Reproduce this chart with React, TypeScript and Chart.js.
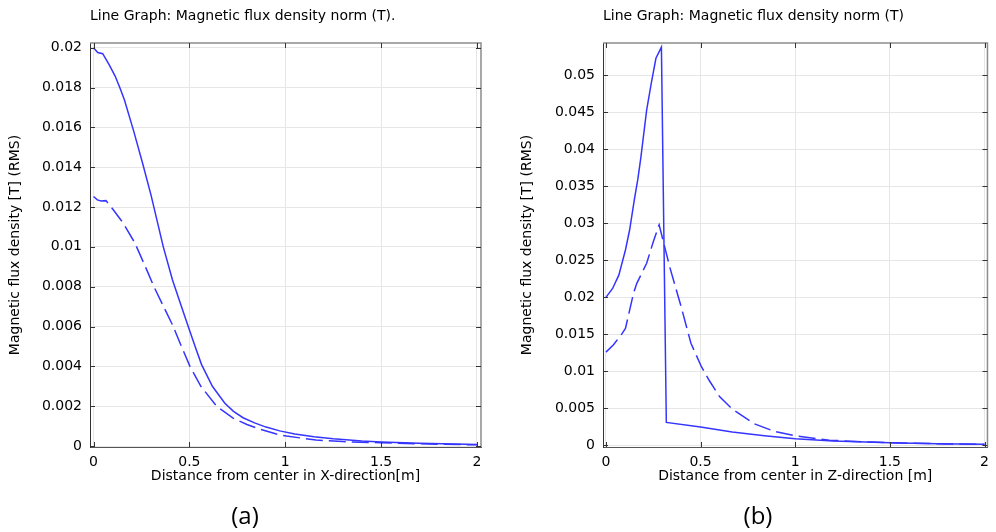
import React, { useEffect, useRef } from 'react';
import { Chart, registerables } from 'chart.js';

Chart.register(...registerables);

// ---------- tick values and labels ----------
const xTickValues = [0, 0.5, 1, 1.5, 2];
const xTickLabels = ['0', '0.5', '1', '1.5', '2'];

const yTickValuesA = [0, 0.002, 0.004, 0.006, 0.008, 0.01, 0.012, 0.014, 0.016, 0.018, 0.02];
const yTickLabelsA = ['0', '0.002', '0.004', '0.006', '0.008', '0.01', '0.012', '0.014', '0.016', '0.018', '0.02'];

const yTickValuesB = [0, 0.005, 0.01, 0.015, 0.02, 0.025, 0.03, 0.035, 0.04, 0.045, 0.05];
const yTickLabelsB = ['0', '0.005', '0.01', '0.015', '0.02', '0.025', '0.03', '0.035', '0.04', '0.045', '0.05'];

// ---------- (a) X-direction ----------
const xASolid = [0, 0.022, 0.048, 0.082, 0.112, 0.135, 0.161, 0.21, 0.256, 0.3, 0.364, 0.412, 0.455, 0.494, 0.53, 0.563, 0.62, 0.685, 0.73, 0.78, 0.84, 0.9, 0.971, 1.05, 1.15, 1.25, 1.4, 1.5, 1.7, 2.0];
const yASolid = [0.02, 0.01976, 0.0197, 0.01914, 0.01859, 0.01805, 0.01739, 0.0158, 0.0142, 0.0126, 0.01, 0.00834, 0.0071, 0.006, 0.005, 0.0041, 0.003, 0.00215, 0.00174, 0.00142, 0.00116, 0.00095, 0.00076, 0.0006, 0.00046, 0.00036, 0.00025, 0.0002, 0.00014, 0.00008];

const xADashed = [0, 0.02, 0.04, 0.065, 0.1, 0.155, 0.216, 0.285, 0.315, 0.364, 0.416, 0.45, 0.503, 0.56, 0.642, 0.728, 0.8, 0.867, 0.954, 1.006, 1.16, 1.3, 1.5, 1.7, 2.0];
const yADashed = [0.01253, 0.01236, 0.0123, 0.01232, 0.0119, 0.01119, 0.01019, 0.00868, 0.008, 0.00703, 0.006, 0.0052, 0.004, 0.003, 0.002, 0.0014, 0.00108, 0.00085, 0.0006, 0.0005, 0.0003, 0.00022, 0.00016, 0.00011, 0.00006];

// ---------- (b) Z-direction ----------
const xBSolid = [0, 0.035, 0.068, 0.103, 0.125, 0.15, 0.168, 0.184, 0.215, 0.24, 0.264, 0.293, 0.319, 0.5, 0.667, 0.837, 1.0, 1.2, 1.5, 1.75, 2.0];
const yBSolid = [0.02, 0.0212, 0.023, 0.0264, 0.0291, 0.0332, 0.0359, 0.0388, 0.0453, 0.049, 0.0523, 0.0538, 0.0031, 0.0025, 0.0018, 0.0013, 0.0009, 0.0006, 0.00035, 0.00022, 0.00015];

const xBDashed = [0, 0.04, 0.085, 0.103, 0.146, 0.163, 0.215, 0.25, 0.281, 0.337, 0.397, 0.449, 0.505, 0.545, 0.6, 0.667, 0.785, 0.89, 1.0, 1.18, 1.4, 1.6, 1.8, 2.0];
const yBDashed = [0.0126, 0.0136, 0.0151, 0.0158, 0.0206, 0.0219, 0.0246, 0.0275, 0.0298, 0.0241, 0.01875, 0.0138, 0.0106, 0.0088, 0.0066, 0.0049, 0.0029, 0.0019, 0.0013, 0.0007, 0.00045, 0.0003, 0.0002, 0.00013];

const BLUE = '#3535ff';
const FONT = 'DejaVu Sans';

const decorPlugin = {
  id: 'decor',
  afterDraw(chart: any, _args: any, opts: any) {
    const { ctx, chartArea: a, scales } = chart;
    ctx.save();
    // top & right frame
    ctx.strokeStyle = '#8c8c8c';
    ctx.lineWidth = 1.5;
    ctx.beginPath();
    ctx.moveTo(a.left, a.top);
    ctx.lineTo(a.right, a.top);
    ctx.lineTo(a.right, a.bottom);
    ctx.stroke();
    // inward tick marks
    ctx.strokeStyle = '#333';
    ctx.lineWidth = 1;
    ctx.beginPath();
    for (const t of scales.x.ticks) {
      const px = Math.round(scales.x.getPixelForValue(t.value)) + 0.5;
      ctx.moveTo(px, a.bottom);
      ctx.lineTo(px, a.bottom - 5);
      ctx.moveTo(px, a.top);
      ctx.lineTo(px, a.top + 5);
    }
    for (const t of scales.y.ticks) {
      const py = Math.round(scales.y.getPixelForValue(t.value)) + 0.5;
      ctx.moveTo(a.left, py);
      ctx.lineTo(a.left + 5, py);
      ctx.moveTo(a.right, py);
      ctx.lineTo(a.right - 5, py);
    }
    ctx.stroke();
    // plot title
    ctx.fillStyle = '#000';
    ctx.font = `14px "${FONT}"`;
    ctx.textAlign = 'left';
    ctx.textBaseline = 'middle';
    ctx.fillText(opts.title, a.left, 16);
    // caption
    ctx.font = '24px "Open Sans"';
    ctx.textAlign = 'center';
    ctx.fillText(opts.caption, opts.captionX, 517);
    ctx.restore();
  },
};

function makeConfig(p: any) {
  const tickFont = { family: FONT, size: 14 };
  return {
    type: 'line',
    data: {
      datasets: [
        {
          data: p.solidX.map((x: number, i: number) => ({ x, y: p.solidY[i] })),
          borderColor: BLUE,
          borderWidth: 1.5,
          pointRadius: 0,
          tension: 0,
          fill: false,
        },
        {
          data: p.dashX.map((x: number, i: number) => ({ x, y: p.dashY[i] })),
          borderColor: BLUE,
          borderWidth: 1.5,
          borderDash: [17, 6],
          pointRadius: 0,
          tension: 0,
          fill: false,
        },
      ],
    },
    options: {
      responsive: false,
      animation: false,
      layout: { padding: { top: 43, right: p.padRight, bottom: 37, left: 0 } },
      plugins: {
        legend: { display: false },
        tooltip: { enabled: false },
        decor: { title: p.title, caption: p.caption, captionX: p.captionX },
      },
      scales: {
        x: {
          type: 'linear',
          min: p.xMin,
          max: p.xMax,
          afterBuildTicks: (s: any) => {
            s.ticks = xTickValues.map((v) => ({ value: v }));
          },
          afterFit: (s: any) => {
            s.height = 48;
          },
          ticks: {
            autoSkip: false,
            maxRotation: 0,
            padding: 7,
            color: '#000',
            font: tickFont,
            callback: (v: number) => xTickLabels[xTickValues.indexOf(v)],
          },
          grid: { color: '#e6e6e6', drawTicks: false },
          border: { display: true, color: '#555', width: 1 },
          title: {
            display: true,
            text: p.xTitle,
            color: '#000',
            font: { family: FONT, size: 14 },
            padding: { top: 0, bottom: 10 },
          },
        },
        y: {
          type: 'linear',
          min: p.yMin,
          max: p.yMax,
          afterBuildTicks: (s: any) => {
            s.ticks = p.yVals.map((v: number) => ({ value: v }));
          },
          afterFit: (s: any) => {
            s.width = p.yWidth;
          },
          ticks: {
            autoSkip: false,
            padding: 8,
            color: '#000',
            font: tickFont,
            callback: (v: number) => p.yLabels[p.yVals.indexOf(v)],
          },
          grid: { color: '#e6e6e6', drawTicks: false },
          border: { display: true, color: '#333', width: 1 },
          title: {
            display: true,
            text: 'Magnetic flux density [T] (RMS)',
            color: '#000',
            font: { family: FONT, size: 14 },
            padding: { top: p.yTitlePad, bottom: 0 },
          },
        },
      },
    },
    plugins: [decorPlugin],
  };
}

const panelA = {
  solidX: xASolid,
  solidY: yASolid,
  dashX: xADashed,
  dashY: yADashed,
  xMin: -0.0183,
  xMax: 2.021,
  yMin: -0.00005,
  yMax: 0.020236,
  yVals: yTickValuesA,
  yLabels: yTickLabelsA,
  yWidth: 90,
  yTitlePad: 6.6,
  padRight: 17,
  title: 'Line Graph: Magnetic flux density norm (T).',
  xTitle: 'Distance from center in X-direction[m]',
  caption: '(a)',
  captionX: 245,
};

const panelB = {
  solidX: xBSolid,
  solidY: yBSolid,
  dashX: xBDashed,
  dashY: yBDashed,
  xMin: -0.0156,
  xMax: 2.0156,
  yMin: -0.000216,
  yMax: 0.054364,
  yVals: yTickValuesB,
  yLabels: yTickLabelsB,
  yWidth: 105,
  yTitlePad: 21.1,
  padRight: 3,
  title: 'Line Graph: Magnetic flux density norm (T)',
  xTitle: 'Distance from center in Z-direction [m]',
  caption: '(b)',
  captionX: 260,
};

function Panel({ cfg, left }: { cfg: any; left: number }) {
  const ref = useRef<HTMLCanvasElement>(null);
  useEffect(() => {
    if (!ref.current) return;
    const chart = new Chart(ref.current, makeConfig(cfg) as any);
    return () => chart.destroy();
  }, [cfg]);
  return (
    <canvas
      ref={ref}
      width={498}
      height={532}
      style={{ position: 'absolute', left, top: 0, width: 498, height: 532 }}
    />
  );
}

export default function App() {
  return (
    <div style={{ position: 'fixed', left: 0, top: 0, width: 996, height: 532, background: '#fff' }}>
      <Panel cfg={panelA} left={0} />
      <Panel cfg={panelB} left={498} />
    </div>
  );
}
